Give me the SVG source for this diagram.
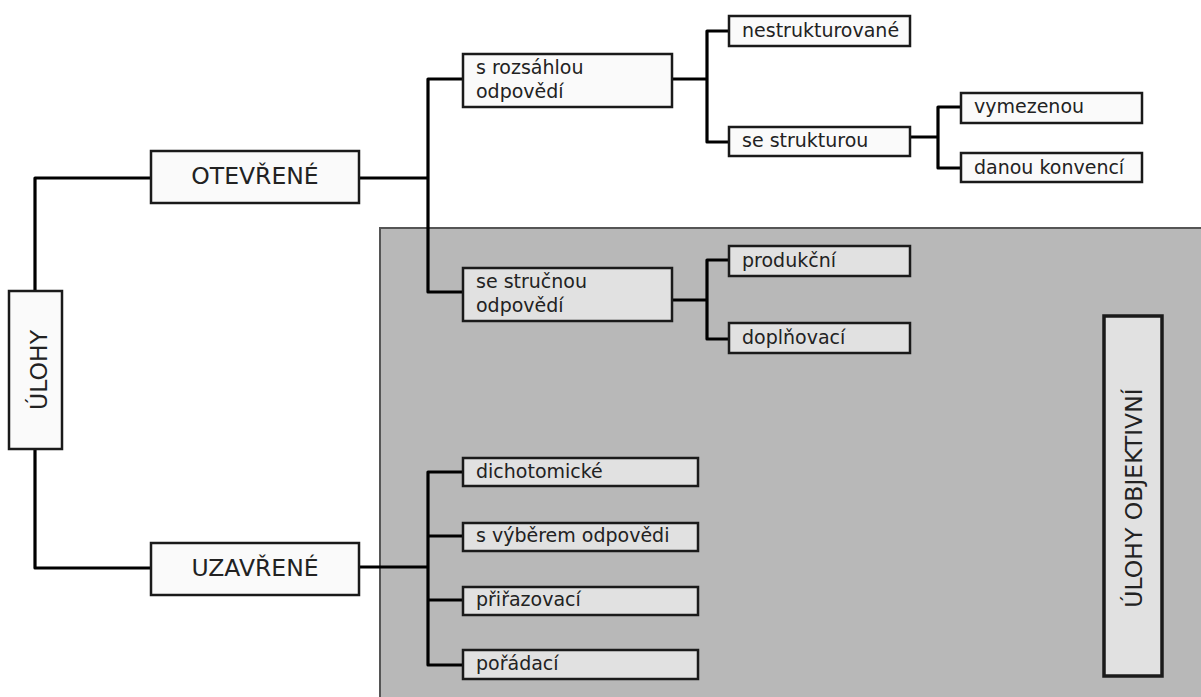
<svg xmlns="http://www.w3.org/2000/svg" width="1201" height="697" viewBox="0 0 1201 697">
<style>
.bg{fill:#b8b8b8;stroke:#555;stroke-width:2}
.w{fill:#fafafa;stroke:#1a1a1a;stroke-width:2.5}
.g{fill:#e1e1e1;stroke:#1a1a1a;stroke-width:2.5}
.c{fill:none;stroke:#000;stroke-width:3.2;stroke-linejoin:round}
text{font-family:"DejaVu Sans","Liberation Sans",sans-serif;fill:#222}
.big{font-size:23.5px}
.sm{font-size:19px}
</style>
<rect x="380" y="228" width="830" height="480" class="bg"/>
<g id="connectors">
<path class="c" d="M35,291 V178 H151"/>
<path class="c" d="M35,449 V568 H151"/>
<path class="c" d="M359,178 H428 M463,79 H428 V292 H463"/>
<path class="c" d="M672,79 H707 M729,31 H707 V142 H729"/>
<path class="c" d="M910,137 H938 M961,107 H938 V168 H961"/>
<path class="c" d="M672,300 H707 M729,260 H707 V339 H729"/>
<path class="c" d="M359,567 H428 M463,472 H428 V665 H463 M428,536 H463 M428,600 H463"/>
</g>
<g id="ulohy"><rect class="w" x="9" y="291" width="53" height="158"/><text class="big" transform="translate(47,370) rotate(-90)" text-anchor="middle">ÚLOHY</text></g>
<g id="otevrene"><rect class="w" x="151" y="151" width="208" height="52"/><text class="big" x="255" y="184" text-anchor="middle">OTEVŘENÉ</text></g>
<g id="uzavrene"><rect class="w" x="151" y="543" width="208" height="52"/><text class="big" x="255" y="576" text-anchor="middle">UZAVŘENÉ</text></g>
<g id="rozsahlou"><rect class="w" x="463" y="54" width="209" height="53"/><text class="sm" x="476" y="74">s rozsáhlou</text><text class="sm" x="476" y="98">odpovědí</text></g>
<g id="nestrukturovane"><rect class="w" x="729" y="16" width="181" height="30"/><text class="sm" x="742" y="37">nestrukturované</text></g>
<g id="sestrukturou"><rect class="w" x="729" y="127" width="181" height="29"/><text class="sm" x="742" y="147">se strukturou</text></g>
<g id="vymezenou"><rect class="w" x="961" y="93" width="181" height="30"/><text class="sm" x="974" y="113">vymezenou</text></g>
<g id="danou"><rect class="w" x="961" y="153" width="181" height="29"/><text class="sm" x="974" y="174">danou konvencí</text></g>
<g id="strucnou"><rect class="g" x="463" y="268" width="209" height="53"/><text class="sm" x="476" y="288">se stručnou</text><text class="sm" x="476" y="312">odpovědí</text></g>
<g id="produkcni"><rect class="g" x="729" y="246" width="181" height="30"/><text class="sm" x="742" y="267">produkční</text></g>
<g id="doplnovaci"><rect class="g" x="729" y="323" width="181" height="30"/><text class="sm" x="742" y="344">doplňovací</text></g>
<g id="dichotomicke"><rect class="g" x="463" y="458" width="235" height="28"/><text class="sm" x="476" y="478">dichotomické</text></g>
<g id="vyberem"><rect class="g" x="463" y="523" width="235" height="28"/><text class="sm" x="476" y="542">s výběrem odpovědi</text></g>
<g id="prirazovaci"><rect class="g" x="463" y="587" width="235" height="28"/><text class="sm" x="476" y="606">přiřazovací</text></g>
<g id="poradaci"><rect class="g" x="463" y="650" width="235" height="29"/><text class="sm" x="476" y="670">pořádací</text></g>
<g id="objektivni"><rect class="g" x="1104" y="316" width="58" height="360" style="stroke-width:3.5"/><text class="big" transform="translate(1142,498) rotate(-90)" text-anchor="middle">ÚLOHY OBJEKTIVNÍ</text></g>
</svg>
